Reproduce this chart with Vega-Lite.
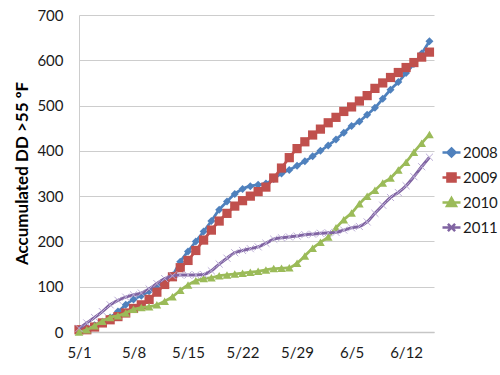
{
"$schema":"https://vega.github.io/schema/vega-lite/v6.json",
"width":355,"height":317,
"autosize":{"type":"none"},
"padding":{"left":79,"top":15,"right":66,"bottom":43},
"background":"white",
"config":{"view":{"stroke":null},"font":"Lato"},
"data":{"format":{"parse":{"date":"date"}},"values":[
{"date":"2011/05/01","year":"2008","dd":5},{"date":"2011/05/02","year":"2008","dd":8},{"date":"2011/05/03","year":"2008","dd":15},{"date":"2011/05/04","year":"2008","dd":22},{"date":"2011/05/05","year":"2008","dd":32},{"date":"2011/05/06","year":"2008","dd":45},{"date":"2011/05/07","year":"2008","dd":60},{"date":"2011/05/08","year":"2008","dd":72},{"date":"2011/05/09","year":"2008","dd":80},{"date":"2011/05/10","year":"2008","dd":90},{"date":"2011/05/11","year":"2008","dd":100},{"date":"2011/05/12","year":"2008","dd":110},{"date":"2011/05/13","year":"2008","dd":125},{"date":"2011/05/14","year":"2008","dd":155},{"date":"2011/05/15","year":"2008","dd":178},{"date":"2011/05/16","year":"2008","dd":200},{"date":"2011/05/17","year":"2008","dd":222},{"date":"2011/05/18","year":"2008","dd":245},{"date":"2011/05/19","year":"2008","dd":270},{"date":"2011/05/20","year":"2008","dd":288},{"date":"2011/05/21","year":"2008","dd":305},{"date":"2011/05/22","year":"2008","dd":316},{"date":"2011/05/23","year":"2008","dd":322},{"date":"2011/05/24","year":"2008","dd":325},{"date":"2011/05/25","year":"2008","dd":328},{"date":"2011/05/26","year":"2008","dd":338},{"date":"2011/05/27","year":"2008","dd":350},{"date":"2011/05/28","year":"2008","dd":358},{"date":"2011/05/29","year":"2008","dd":367},{"date":"2011/05/30","year":"2008","dd":377},{"date":"2011/05/31","year":"2008","dd":388},{"date":"2011/06/01","year":"2008","dd":400},{"date":"2011/06/02","year":"2008","dd":412},{"date":"2011/06/03","year":"2008","dd":425},{"date":"2011/06/04","year":"2008","dd":440},{"date":"2011/06/05","year":"2008","dd":455},{"date":"2011/06/06","year":"2008","dd":465},{"date":"2011/06/07","year":"2008","dd":480},{"date":"2011/06/08","year":"2008","dd":495},{"date":"2011/06/09","year":"2008","dd":515},{"date":"2011/06/10","year":"2008","dd":535},{"date":"2011/06/11","year":"2008","dd":552},{"date":"2011/06/12","year":"2008","dd":572},{"date":"2011/06/13","year":"2008","dd":592},{"date":"2011/06/14","year":"2008","dd":615},{"date":"2011/06/15","year":"2008","dd":642},
{"date":"2011/05/01","year":"2009","dd":5},{"date":"2011/05/02","year":"2009","dd":5},{"date":"2011/05/03","year":"2009","dd":11},{"date":"2011/05/04","year":"2009","dd":20},{"date":"2011/05/05","year":"2009","dd":27},{"date":"2011/05/06","year":"2009","dd":34},{"date":"2011/05/07","year":"2009","dd":42},{"date":"2011/05/08","year":"2009","dd":52},{"date":"2011/05/09","year":"2009","dd":60},{"date":"2011/05/10","year":"2009","dd":72},{"date":"2011/05/11","year":"2009","dd":88},{"date":"2011/05/12","year":"2009","dd":105},{"date":"2011/05/13","year":"2009","dd":122},{"date":"2011/05/14","year":"2009","dd":142},{"date":"2011/05/15","year":"2009","dd":158},{"date":"2011/05/16","year":"2009","dd":180},{"date":"2011/05/17","year":"2009","dd":203},{"date":"2011/05/18","year":"2009","dd":225},{"date":"2011/05/19","year":"2009","dd":245},{"date":"2011/05/20","year":"2009","dd":262},{"date":"2011/05/21","year":"2009","dd":278},{"date":"2011/05/22","year":"2009","dd":290},{"date":"2011/05/23","year":"2009","dd":300},{"date":"2011/05/24","year":"2009","dd":310},{"date":"2011/05/25","year":"2009","dd":320},{"date":"2011/05/26","year":"2009","dd":340},{"date":"2011/05/27","year":"2009","dd":362},{"date":"2011/05/28","year":"2009","dd":385},{"date":"2011/05/29","year":"2009","dd":405},{"date":"2011/05/30","year":"2009","dd":420},{"date":"2011/05/31","year":"2009","dd":435},{"date":"2011/06/01","year":"2009","dd":448},{"date":"2011/06/02","year":"2009","dd":462},{"date":"2011/06/03","year":"2009","dd":474},{"date":"2011/06/04","year":"2009","dd":487},{"date":"2011/06/05","year":"2009","dd":497},{"date":"2011/06/06","year":"2009","dd":510},{"date":"2011/06/07","year":"2009","dd":522},{"date":"2011/06/08","year":"2009","dd":538},{"date":"2011/06/09","year":"2009","dd":550},{"date":"2011/06/10","year":"2009","dd":562},{"date":"2011/06/11","year":"2009","dd":573},{"date":"2011/06/12","year":"2009","dd":584},{"date":"2011/06/13","year":"2009","dd":595},{"date":"2011/06/14","year":"2009","dd":607},{"date":"2011/06/15","year":"2009","dd":618},
{"date":"2011/05/01","year":"2010","dd":0},{"date":"2011/05/02","year":"2010","dd":5},{"date":"2011/05/03","year":"2010","dd":14},{"date":"2011/05/04","year":"2010","dd":24},{"date":"2011/05/05","year":"2010","dd":32},{"date":"2011/05/06","year":"2010","dd":36},{"date":"2011/05/07","year":"2010","dd":42},{"date":"2011/05/08","year":"2010","dd":50},{"date":"2011/05/09","year":"2010","dd":54},{"date":"2011/05/10","year":"2010","dd":56},{"date":"2011/05/11","year":"2010","dd":60},{"date":"2011/05/12","year":"2010","dd":68},{"date":"2011/05/13","year":"2010","dd":78},{"date":"2011/05/14","year":"2010","dd":92},{"date":"2011/05/15","year":"2010","dd":104},{"date":"2011/05/16","year":"2010","dd":113},{"date":"2011/05/17","year":"2010","dd":118},{"date":"2011/05/18","year":"2010","dd":120},{"date":"2011/05/19","year":"2010","dd":124},{"date":"2011/05/20","year":"2010","dd":126},{"date":"2011/05/21","year":"2010","dd":128},{"date":"2011/05/22","year":"2010","dd":130},{"date":"2011/05/23","year":"2010","dd":132},{"date":"2011/05/24","year":"2010","dd":134},{"date":"2011/05/25","year":"2010","dd":137},{"date":"2011/05/26","year":"2010","dd":140},{"date":"2011/05/27","year":"2010","dd":141},{"date":"2011/05/28","year":"2010","dd":142},{"date":"2011/05/29","year":"2010","dd":152},{"date":"2011/05/30","year":"2010","dd":168},{"date":"2011/05/31","year":"2010","dd":185},{"date":"2011/06/01","year":"2010","dd":198},{"date":"2011/06/02","year":"2010","dd":210},{"date":"2011/06/03","year":"2010","dd":230},{"date":"2011/06/04","year":"2010","dd":248},{"date":"2011/06/05","year":"2010","dd":263},{"date":"2011/06/06","year":"2010","dd":283},{"date":"2011/06/07","year":"2010","dd":300},{"date":"2011/06/08","year":"2010","dd":313},{"date":"2011/06/09","year":"2010","dd":329},{"date":"2011/06/10","year":"2010","dd":340},{"date":"2011/06/11","year":"2010","dd":358},{"date":"2011/06/12","year":"2010","dd":375},{"date":"2011/06/13","year":"2010","dd":397},{"date":"2011/06/14","year":"2010","dd":417},{"date":"2011/06/15","year":"2010","dd":436},
{"date":"2011/05/01","year":"2011","dd":8},{"date":"2011/05/02","year":"2011","dd":20},{"date":"2011/05/03","year":"2011","dd":32},{"date":"2011/05/04","year":"2011","dd":45},{"date":"2011/05/05","year":"2011","dd":60},{"date":"2011/05/06","year":"2011","dd":70},{"date":"2011/05/07","year":"2011","dd":77},{"date":"2011/05/08","year":"2011","dd":82},{"date":"2011/05/09","year":"2011","dd":86},{"date":"2011/05/10","year":"2011","dd":95},{"date":"2011/05/11","year":"2011","dd":107},{"date":"2011/05/12","year":"2011","dd":118},{"date":"2011/05/13","year":"2011","dd":124},{"date":"2011/05/14","year":"2011","dd":126},{"date":"2011/05/15","year":"2011","dd":126},{"date":"2011/05/16","year":"2011","dd":126},{"date":"2011/05/17","year":"2011","dd":127},{"date":"2011/05/18","year":"2011","dd":135},{"date":"2011/05/19","year":"2011","dd":150},{"date":"2011/05/20","year":"2011","dd":163},{"date":"2011/05/21","year":"2011","dd":175},{"date":"2011/05/22","year":"2011","dd":180},{"date":"2011/05/23","year":"2011","dd":184},{"date":"2011/05/24","year":"2011","dd":188},{"date":"2011/05/25","year":"2011","dd":196},{"date":"2011/05/26","year":"2011","dd":205},{"date":"2011/05/27","year":"2011","dd":208},{"date":"2011/05/28","year":"2011","dd":210},{"date":"2011/05/29","year":"2011","dd":212},{"date":"2011/05/30","year":"2011","dd":215},{"date":"2011/05/31","year":"2011","dd":216},{"date":"2011/06/01","year":"2011","dd":218},{"date":"2011/06/02","year":"2011","dd":219},{"date":"2011/06/03","year":"2011","dd":220},{"date":"2011/06/04","year":"2011","dd":225},{"date":"2011/06/05","year":"2011","dd":230},{"date":"2011/06/06","year":"2011","dd":233},{"date":"2011/06/07","year":"2011","dd":243},{"date":"2011/06/08","year":"2011","dd":262},{"date":"2011/06/09","year":"2011","dd":280},{"date":"2011/06/10","year":"2011","dd":297},{"date":"2011/06/11","year":"2011","dd":308},{"date":"2011/06/12","year":"2011","dd":323},{"date":"2011/06/13","year":"2011","dd":343},{"date":"2011/06/14","year":"2011","dd":365},{"date":"2011/06/15","year":"2011","dd":386}
]},
"encoding":{
 "x":{"field":"date","type":"temporal",
  "scale":{"domain":[{"year":2011,"month":5,"date":1},{"year":2011,"month":6,"date":15,"hours":14}]},
  "axis":{"title":null,"grid":false,"ticks":false,"domain":true,"domainColor":"#c6c6c6","domainWidth":1.5,
   "values":[{"year":2011,"month":5,"date":1},{"year":2011,"month":5,"date":8},{"year":2011,"month":5,"date":15},{"year":2011,"month":5,"date":22},{"year":2011,"month":5,"date":29},{"year":2011,"month":6,"date":5},{"year":2011,"month":6,"date":12}],
   "format":"%-m/%-d","labelFontSize":15,"labelColor":"#1a1a1a","labelPadding":13,"labelFont":"Lato","labelFlush":false,"labelOverlap":false}},
 "y":{"field":"dd","type":"quantitative","scale":{"domain":[0,700],"nice":false},
  "axis":{"values":[0,100,200,300,400,500,600,700],"grid":true,"gridColor":"#cdcdcd","gridWidth":1.2,"ticks":false,"domain":true,"domainColor":"#cdcdcd",
   "labelFontSize":15,"labelColor":"#1a1a1a","labelPadding":16,"labelFont":"Lato",
   "title":"Accumulated DD >55 ºF","titleFontSize":17,"titleFontWeight":"bold","titleColor":"#000000","titleFont":"Lato",
   "titleX":-57,"titleY":158,"titleAngle":-90,"titleAlign":"center","titleBaseline":"middle"}},
 "color":{"field":"year","type":"nominal",
  "scale":{"domain":["2008","2009","2010","2011"],"range":["#4F81BD","#C0504D","#9BBB59","#8064A2"]},
  "legend":{"orient":"none","legendX":362,"legendY":127,"title":null,"labelFontSize":15,"labelFont":"Lato","labelColor":"#1a1a1a",
   "symbolSize":324,"rowPadding":5,"labelOffset":1,"symbolStrokeWidth":2.5,
   "encode":{"symbols":{"update":{
     "shape":{"signal":"datum.value=='2008' ? 'M-1,0H1M0,-0.45L0.45,0L0,0.45L-0.45,0Z' : datum.value=='2009' ? 'M-1,0H1M-0.45,-0.45H0.45V0.45H-0.45Z' : datum.value=='2010' ? 'M-1,0H1M0,-0.5L0.5,0.4H-0.5Z' : 'M-1,0H1M-0.4,-0.4L0.4,0.4M-0.4,0.4L0.4,-0.4'"},
     "fill":{"scale":"color","field":"value"},
     "stroke":{"scale":"color","field":"value"},
     "strokeWidth":{"value":2.5},
     "opacity":{"value":1}}}}}}
},
"layer":[
 {"transform":[{"filter":"datum.year=='2008'"}],"mark":{"type":"line","strokeWidth":2.75,"interpolate":"monotone"}},
 {"transform":[{"filter":"datum.year=='2008'"}],"mark":{"type":"point","shape":"diamond","filled":true,"size":64,"opacity":1}},
 {"transform":[{"filter":"datum.year=='2009'"}],"mark":{"type":"line","strokeWidth":2.75,"interpolate":"monotone"}},
 {"transform":[{"filter":"datum.year=='2009'"}],"mark":{"type":"point","shape":"square","filled":true,"size":85,"opacity":1}},
 {"transform":[{"filter":"datum.year=='2010'"}],"mark":{"type":"line","strokeWidth":2.75,"interpolate":"monotone"}},
 {"transform":[{"filter":"datum.year=='2010'"}],"mark":{"type":"point","shape":"triangle-up","filled":true,"size":75,"opacity":1}},
 {"transform":[{"filter":"datum.year=='2011'"}],"mark":{"type":"line","strokeWidth":3,"interpolate":"monotone"}},
 {"transform":[{"filter":"datum.year=='2011'"}],"mark":{"type":"point","shape":"M-1,-1L1,1M-1,1L1,-1","filled":false,"size":50,"strokeWidth":1,"opacity":1},
  "encoding":{"color":{"value":"#BCAED6"}}}
]
}
